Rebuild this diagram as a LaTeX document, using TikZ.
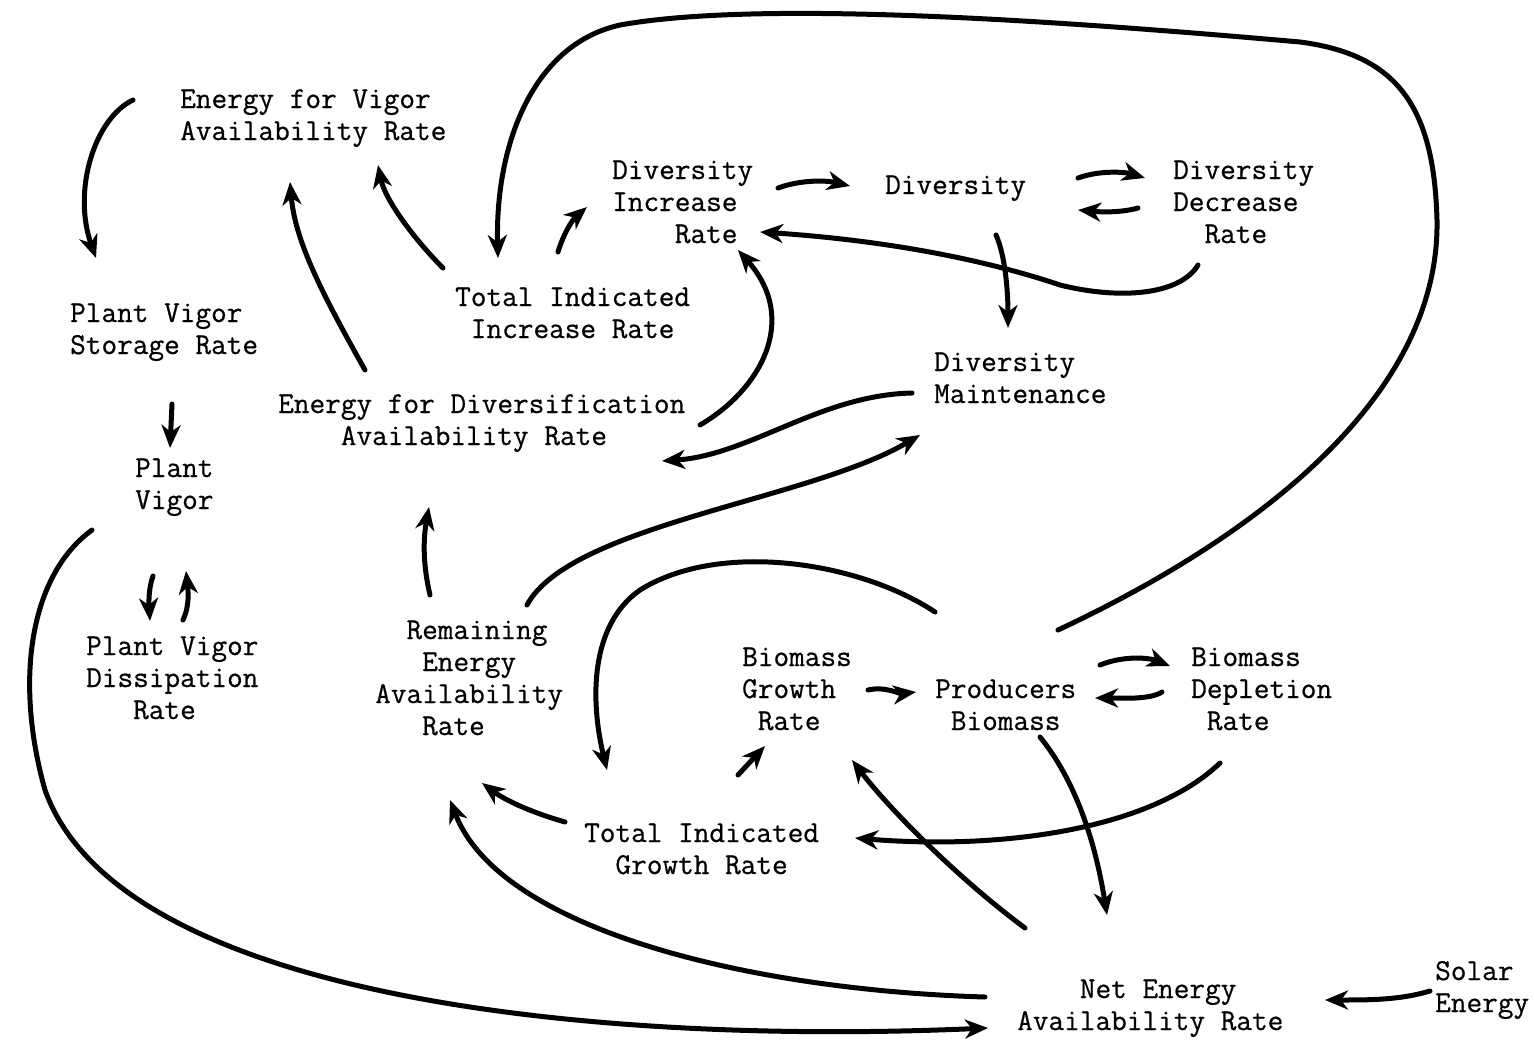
\documentclass[tikz,border=0pt]{standalone}
\usepackage{fontspec}
\usetikzlibrary{arrows.meta,calc}

% typewriter face, slightly emboldened
\newfontfamily\twfont{Latin Modern Mono}[FakeBold=0.6]

% multi-line label whose baseline is the first line
\newcommand\txtlines[1]{\begin{tabular}[t]{@{}l@{}}#1\end{tabular}}

\tikzset{
  lbl/.style={anchor=base west, inner sep=0pt,
    font=\fontsize{30.4}{32}\selectfont\twfont},
  arr/.style={line width=5pt, line cap=round,
    -{Stealth[length=23pt,width=19pt,inset=7pt]}}
}

\begin{document}
\begin{tikzpicture}[x=1pt,y=-1pt]
\fill[white] (0,0) rectangle (1534,1044);
\useasboundingbox (0,0) rectangle (1534,1044);

% ---- variables and rates ----
\node[lbl] (EVA)  at (180,108)  {\txtlines{Energy for Vigor\\Availability Rate}};
\node[lbl] (PVSR) at (70,322)   {\txtlines{Plant Vigor\\Storage Rate}};
\node[lbl] (PV)   at (135,477)  {\txtlines{Plant\\Vigor}};
\node[lbl] (PVDR) at (86,655)   {\txtlines{Plant Vigor\\Dissipation\\\hphantom{000}Rate}};
\node[lbl] (TIIR) at (455,306)  {\txtlines{Total Indicated\\\hphantom{0}Increase Rate}};
\node[lbl] (EDAR) at (278,413)  {\txtlines{Energy for Diversification\\\hphantom{0000}Availability Rate}};
\node[lbl] (DIR)  at (612,179)  {\txtlines{Diversity\\Increase\\\hphantom{0000}Rate}};
\node[lbl] (Div)  at (885,194)  {Diversity};
\node[lbl] (DDR)  at (1173,179) {\txtlines{Diversity\\Decrease\\\hphantom{00}Rate}};
\node[lbl] (DM)   at (934,371)  {\txtlines{Diversity\\Maintenance}};
\node[lbl] (REAR) at (375,639)  {\txtlines{\hphantom{00}Remaining\\\hphantom{000}Energy\\Availability\\\hphantom{000}Rate}};
\node[lbl] (BGR)  at (742,666)  {\txtlines{Biomass\\Growth\\\hphantom{0}Rate}};
\node[lbl] (PB)   at (935,698)  {\txtlines{Producers\\\hphantom{0}Biomass}};
\node[lbl] (BDR)  at (1191,666) {\txtlines{Biomass\\Depletion\\\hphantom{0}Rate}};
\node[lbl] (TIGR) at (584,842)  {\txtlines{Total Indicated\\\hphantom{00}Growth Rate}};
\node[lbl] (NEAR) at (1017,998) {\txtlines{\hphantom{0000}Net Energy\\Availability Rate}};
\node[lbl] (SE)   at (1435,980) {\txtlines{Solar\\Energy}};

% ---- plant vigor sector ----
\draw[arr] ($(EVA.base west)+(-47,-8)$) .. controls (95,118) and (72,190) .. ($(PVSR.base west)+(26,-64)$);
\draw[arr] ($(PVSR.base west)+(102,82)$) -- ($(PV.base west)+(35,-29)$);
\draw[arr] ($(PV.base west)+(18,99)$) .. controls (148,590) and (149,605) .. ($(PVDR.base west)+(64,-34)$);
\draw[arr] ($(PVDR.base west)+(97,-35)$) .. controls (190,605) and (188,590) .. ($(PV.base west)+(51,94)$);
\draw[arr] ($(PV.base west)+(-43,53)$) .. controls (30,575) and (14,680) .. (45,790)
           .. controls (120,1000) and (600,1045) .. ($(NEAR.base west)+(-29,30)$);

% ---- energy flows ----
\draw[arr] ($(NEAR.base west)+(-32,-1)$) .. controls (750,990) and (500,930) .. ($(REAR.base west)+(75,161)$);
\draw[arr] ($(NEAR.base west)+(8,-70)$) .. controls (960,880) and (890,810) .. ($(BGR.base west)+(110,94)$);
\draw[arr] ($(PB.base west)+(105,39)$) .. controls (1075,780) and (1095,840) .. ($(NEAR.base west)+(90,-83)$);
\draw[arr] ($(SE.base west)+(-5,11)$) .. controls (1400,1000) and (1370,1000) .. ($(NEAR.base west)+(308,2)$);

% ---- biomass sector ----
\draw[arr] ($(BDR.base west)+(29,97)$) .. controls (1150,830) and (1000,850) .. ($(TIGR.base west)+(271,-4)$);
\draw[arr] ($(TIGR.base west)+(-19,-20)$) .. controls (530,812) and (505,800) .. ($(REAR.base west)+(107,144)$);
\draw[arr] ($(TIGR.base west)+(154,-67)$) -- ($(BGR.base west)+(23,80)$);
\draw[arr] ($(BGR.base west)+(126,24)$) .. controls (885,686) and (900,694) .. ($(PB.base west)+(-19,-6)$);
\draw[arr] ($(PB.base west)+(165,-33)$) .. controls (1125,655) and (1150,658) .. ($(BDR.base west)+(-21,0)$);
\draw[arr] ($(BDR.base west)+(-29,26)$) .. controls (1150,700) and (1120,698) .. ($(PB.base west)+(160,0)$);
\draw[arr] ($(PB.base west)+(0,-86)$) .. controls (860,562) and (720,540) .. (640,590)
           .. controls (590,625) and (590,700) .. ($(TIGR.base west)+(23,-72)$);
\draw[arr] ($(PB.base west)+(123,-68)$) .. controls (1250,540) and (1440,400) .. (1437,220)
           .. controls (1434,110) and (1400,55) .. (1300,42)
           .. controls (1050,20) and (760,0) .. (620,25)
           .. controls (530,45) and (495,150) .. ($(TIIR.base west)+(43,-48)$);

% ---- diversity sector ----
\draw[arr] ($(TIIR.base west)+(-12,-38)$) .. controls (415,240) and (385,200) .. ($(EVA.base west)+(198,57)$);
\draw[arr] ($(TIIR.base west)+(103,-54)$) .. controls (563,235) and (572,220) .. ($(DIR.base west)+(-25,28)$);
\draw[arr] ($(EDAR.base west)+(87,-43)$) .. controls (320,290) and (295,240) .. ($(EVA.base west)+(110,74)$);
\draw[arr] ($(EDAR.base west)+(422,12)$) .. controls (760,390) and (800,320) .. ($(DIR.base west)+(126,71)$);
\draw[arr] ($(DM.base west)+(-22,22)$) .. controls (820,395) and (750,455) .. ($(EDAR.base west)+(384,48)$);
\draw[arr] ($(REAR.base west)+(152,-34)$) .. controls (570,525) and (810,500) .. ($(DM.base west)+(-14,64)$);
\draw[arr] ($(REAR.base west)+(55,-44)$) .. controls (423,565) and (423,540) .. ($(EDAR.base west)+(151,94)$);
\draw[arr] ($(DIR.base west)+(166,9)$) .. controls (800,180) and (825,180) .. ($(Div.base west)+(-35,-8)$);
\draw[arr] ($(Div.base west)+(193,-16)$) .. controls (1100,170) and (1125,172) .. ($(DDR.base west)+(-28,-1)$);
\draw[arr] ($(DDR.base west)+(-35,29)$) .. controls (1120,213) and (1100,212) .. ($(Div.base west)+(193,16)$);
\draw[arr] ($(Div.base west)+(111,41)$) .. controls (1005,255) and (1008,290) .. ($(DM.base west)+(74,-43)$);
\draw[arr] ($(DDR.base west)+(25,86)$) .. controls (1180,295) and (1120,300) .. (1060,285)
           .. controls (980,258) and (880,240) .. ($(DIR.base west)+(148,53)$);
\end{tikzpicture}
\end{document}
